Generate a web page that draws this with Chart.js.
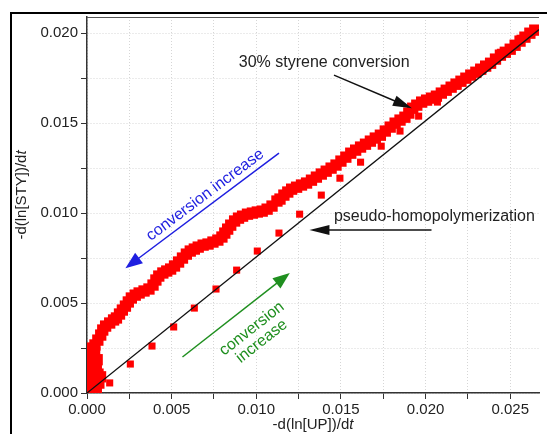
<!DOCTYPE html>
<html>
<head>
<meta charset="utf-8">
<script src="https://cdn.jsdelivr.net/npm/chart.js@4.4.1/dist/chart.umd.min.js"></script>
<style>
  html, body { margin: 0; padding: 0; background: #fff; overflow: hidden; }
  #wrap { position: relative; width: 547px; height: 434px; }
  #frame { position: absolute; left: 10px; top: 12px; width: 600px; height: 500px; border: 2px solid #000; }
  canvas { position: absolute; left: 0; top: 0; }
</style>
</head>
<body>
<div id="wrap">
  <div id="frame"></div>
  <canvas id="chart" width="547" height="434"></canvas>
</div>
<script>
// -d(ln[UP])/dt vs -d(ln[STY])/dt, dense run (red band)
const denseX = [
  0.00005, 0.00010, 0.00020, 0.00015, 0.00035, 0.00030, 0.00055, 0.00050, 0.00020, 0.00045,
  0.00070, 0.00065, 0.00025, 0.00055, 0.00080, 0.00035, 0.00010, 0.00060, 0.00045, 0.00015,
  0.00029, 0.00047, 0.00064, 0.00081, 0.00093, 0.00110, 0.00134, 0.00157, 0.00174, 0.00192,
  0.00209, 0.00227, 0.00244, 0.00262, 0.00285, 0.00308, 0.00337, 0.00366, 0.00390, 0.00407,
  0.00424, 0.00448, 0.00471, 0.00494, 0.00517, 0.00541, 0.00564, 0.00587, 0.00610, 0.00634,
  0.00657, 0.00686, 0.00715, 0.00744, 0.00773, 0.00797, 0.00814, 0.00831, 0.00849, 0.00872,
  0.00895, 0.00919, 0.00948, 0.00977, 0.01006, 0.01035, 0.01064, 0.01093, 0.01122, 0.01140,
  0.01163, 0.01186, 0.01209, 0.01238, 0.01267, 0.01297, 0.01326, 0.01355, 0.01384, 0.01413,
  0.01442, 0.01471, 0.01500, 0.01529, 0.01558, 0.01587, 0.01616, 0.01645, 0.01674, 0.01703,
  0.01733, 0.01762, 0.01791, 0.01820, 0.01849, 0.01878, 0.01901, 0.01924, 0.01948, 0.01977,
  0.02006, 0.02035, 0.02064, 0.02093, 0.02122, 0.02151, 0.02180, 0.02209, 0.02238, 0.02267,
  0.02297, 0.02326, 0.02355, 0.02384, 0.02413, 0.02442, 0.02471, 0.02500, 0.02529, 0.02558,
  0.02587, 0.02616, 0.02645
];
const denseY = [
  0.00010, 0.00035, 0.00015, 0.00070, 0.00040, 0.00095, 0.00025, 0.00075, 0.00125, 0.00120,
  0.00055, 0.00105, 0.00160, 0.00155, 0.00090, 0.00195, 0.00210, 0.00185, 0.00225, 0.00250,
  0.00239, 0.00267, 0.00294, 0.00322, 0.00350, 0.00372, 0.00389, 0.00406, 0.00417, 0.00439,
  0.00461, 0.00483, 0.00506, 0.00528, 0.00544, 0.00556, 0.00567, 0.00578, 0.00600, 0.00628,
  0.00650, 0.00667, 0.00678, 0.00689, 0.00706, 0.00728, 0.00750, 0.00772, 0.00789, 0.00800,
  0.00811, 0.00822, 0.00828, 0.00839, 0.00850, 0.00867, 0.00889, 0.00911, 0.00933, 0.00956,
  0.00972, 0.00983, 0.00994, 0.01000, 0.01006, 0.01011, 0.01022, 0.01039, 0.01067, 0.01078,
  0.01100, 0.01117, 0.01133, 0.01144, 0.01156, 0.01167, 0.01183, 0.01200, 0.01217, 0.01233,
  0.01250, 0.01267, 0.01289, 0.01311, 0.01333, 0.01350, 0.01367, 0.01383, 0.01400, 0.01417,
  0.01433, 0.01456, 0.01478, 0.01500, 0.01517, 0.01533, 0.01556, 0.01583, 0.01600, 0.01617,
  0.01628, 0.01639, 0.01650, 0.01667, 0.01683, 0.01700, 0.01717, 0.01733, 0.01750, 0.01767,
  0.01783, 0.01800, 0.01817, 0.01833, 0.01856, 0.01878, 0.01894, 0.01911, 0.01933, 0.01956,
  0.01978, 0.02000, 0.02017
];

// sparse run (isolated squares near the line)
const sparseX = [0.00134, 0.00256, 0.00384, 0.00512, 0.00634, 0.00762, 0.00884, 0.01006, 0.01134, 0.01256,
  0.01384, 0.01494, 0.01616, 0.01738, 0.01849, 0.01959, 0.02070, 0.02190, 0.02314, 0.02442, 0.02558];
const sparseY = [0.00056, 0.00161, 0.00261, 0.00367, 0.00472, 0.00578, 0.00683, 0.00789, 0.00889, 0.00994,
  0.01100, 0.01194, 0.01283, 0.01372, 0.01456, 0.01539, 0.01617, 0.01706, 0.01806, 0.01894, 0.01972];

// pseudo-homopolymerization line
const lineX = [0, 0.0267];
const lineY = [0, 0.0202];

const xRange = [0, 0.0267];
const yRange = [0, 0.0209];
const tickStep = 0.0025;
const labelStep = 0.005;

const FONT = "'Liberation Sans', Arial, sans-serif";
const RED = '#ff0000';

function pts(xs, ys) {
  return xs.map((x, i) => ({ x: x, y: ys[i] }));
}

function isMajor(v) {
  const r = v / labelStep;
  return Math.abs(r - Math.round(r)) < 1e-6;
}

// annotation anchors, in data units
const notes = {
  styrene: { text: '30% styrene conversion', x: 0.01401, y: 0.01839, from: [0.01459, 0.01767], to: [0.01919, 0.01583] },
  pseudo: { text: 'pseudo-homopolymerization', x: 0.02052, y: 0.00983, from: [0.02035, 0.00906], to: [0.01314, 0.00906] },
  blue: { text: 'conversion increase', x: 0.00698, y: 0.01100, from: [0.01134, 0.01333], to: [0.00227, 0.00694] },
  green: { lines: ['conversion', 'increase'], x: 0.01003, y: 0.00322, from: [0.00564, 0.00200], to: [0.01198, 0.00667] }
};

function drawArrow(ctx, x1, y1, x2, y2, color, head, half) {
  const a = Math.atan2(y2 - y1, x2 - x1);
  ctx.save();
  ctx.strokeStyle = color;
  ctx.fillStyle = color;
  ctx.lineWidth = 1.5;
  ctx.beginPath();
  ctx.moveTo(x1, y1);
  ctx.lineTo(x2 - Math.cos(a) * head * 0.8, y2 - Math.sin(a) * head * 0.8);
  ctx.stroke();
  ctx.translate(x2, y2);
  ctx.rotate(a);
  ctx.beginPath();
  ctx.moveTo(0, 0);
  ctx.lineTo(-head, -half);
  ctx.lineTo(-head, half);
  ctx.closePath();
  ctx.fill();
  ctx.restore();
}

// text with an italic tail ("d" + italic "t")
function drawTitle(ctx, main, tail, cx, cy, rot) {
  ctx.save();
  ctx.translate(cx, cy);
  ctx.rotate(rot);
  ctx.fillStyle = '#222';
  ctx.textBaseline = 'middle';
  ctx.textAlign = 'left';
  ctx.font = '15px ' + FONT;
  const w1 = ctx.measureText(main).width;
  ctx.font = 'italic 15px ' + FONT;
  const w2 = ctx.measureText(tail).width;
  const start = -(w1 + w2) / 2;
  ctx.font = '15px ' + FONT;
  ctx.fillText(main, start, 0);
  ctx.font = 'italic 15px ' + FONT;
  ctx.fillText(tail, start + w1, 0);
  ctx.restore();
}

const annotations = {
  id: 'annotations',
  afterDraw(chart) {
    const { ctx, chartArea, scales } = chart;
    const px = v => scales.x.getPixelForValue(v);
    const py = v => scales.y.getPixelForValue(v);

    // top edge of the plot box
    ctx.save();
    ctx.strokeStyle = '#555';
    ctx.lineWidth = 1;
    ctx.beginPath();
    ctx.moveTo(chartArea.left, chartArea.top + 0.5);
    ctx.lineTo(chartArea.right, chartArea.top + 0.5);
    ctx.stroke();
    ctx.restore();

    ctx.save();
    ctx.font = '16px ' + FONT;
    ctx.fillStyle = '#222';
    ctx.textAlign = 'center';
    ctx.textBaseline = 'middle';
    let n = notes.styrene;
    ctx.fillText(n.text, px(n.x), py(n.y));
    drawArrow(ctx, px(n.from[0]), py(n.from[1]), px(n.to[0]), py(n.to[1]), '#111', 19, 5.5);
    n = notes.pseudo;
    ctx.fillText(n.text, px(n.x), py(n.y));
    drawArrow(ctx, px(n.from[0]), py(n.from[1]), px(n.to[0]), py(n.to[1]), '#111', 20, 5);

    // blue arrow + rotated label
    n = notes.blue;
    let x1 = px(n.from[0]), y1 = py(n.from[1]), x2 = px(n.to[0]), y2 = py(n.to[1]);
    drawArrow(ctx, x1, y1, x2, y2, '#1f1fe0', 17, 6.5);
    let ang = Math.atan2(y1 - y2, x1 - x2);
    ctx.save();
    ctx.translate(px(n.x), py(n.y));
    ctx.rotate(ang);
    ctx.fillStyle = '#1f1fe0';
    ctx.fillText(n.text, 0, 0);
    ctx.restore();

    // green arrow + two-line rotated label
    n = notes.green;
    x1 = px(n.from[0]); y1 = py(n.from[1]); x2 = px(n.to[0]); y2 = py(n.to[1]);
    drawArrow(ctx, x1, y1, x2, y2, '#1f8f1f', 17, 6.5);
    ang = Math.atan2(y2 - y1, x2 - x1);
    ctx.save();
    ctx.translate(px(n.x), py(n.y));
    ctx.rotate(ang);
    ctx.fillStyle = '#1f8f1f';
    ctx.fillText(n.lines[0], 0, -8);
    ctx.fillText(n.lines[1], 0, 8);
    ctx.restore();
    ctx.restore();

    // axis titles
    drawTitle(ctx, '-d(ln[UP])/d', 't', (chartArea.left + chartArea.right) / 2, 425, 0);
    drawTitle(ctx, '-d(ln[STY])/d', 't', 22, 195, -Math.PI / 2);
  }
};

const tickFont = { family: FONT, size: 15 };

new Chart(document.getElementById('chart'), {
  type: 'scatter',
  data: {
    datasets: [
      {
        label: 'pseudo-homopolymerization',
        data: pts(lineX, lineY),
        showLine: true,
        borderColor: '#111',
        borderWidth: 1.3,
        pointRadius: 0,
        order: 0
      },
      {
        label: 'run 1',
        data: pts(denseX, denseY),
        pointStyle: 'rect',
        pointRadius: 8,
        backgroundColor: RED,
        borderWidth: 0,
        order: 1
      },
      {
        label: 'run 2',
        data: pts(sparseX, sparseY),
        pointStyle: 'rect',
        pointRadius: 5,
        backgroundColor: RED,
        borderWidth: 0,
        order: 1
      }
    ]
  },
  options: {
    responsive: false,
    animation: false,
    events: [],
    layout: { padding: { left: 0, top: 17, right: 0, bottom: 0 } },
    plugins: { legend: { display: false }, tooltip: { enabled: false } },
    scales: {
      x: {
        type: 'linear',
        min: xRange[0],
        max: xRange[1],
        ticks: {
          stepSize: tickStep,
          includeBounds: false,
          autoSkip: false,
          maxRotation: 0,
          padding: 2,
          color: '#222',
          font: tickFont,
          callback: v => isMajor(v) ? v.toFixed(3) : ''
        },
        grid: { color: '#d6d6d6', tickColor: '#333', tickLength: 6, lineWidth: 1 },
        border: { color: '#333', width: 1.5, dash: [1, 2] },
        afterFit: s => { s.height = 41; }
      },
      y: {
        type: 'linear',
        min: yRange[0],
        max: yRange[1],
        ticks: {
          stepSize: tickStep,
          includeBounds: false,
          autoSkip: false,
          padding: 3,
          color: '#222',
          font: tickFont,
          callback: v => isMajor(v) ? v.toFixed(3) : ''
        },
        grid: { color: '#d6d6d6', tickColor: '#333', tickLength: 6, lineWidth: 1 },
        border: { color: '#333', width: 1.5, dash: [1, 2] },
        afterFit: s => { s.width = 87; }
      }
    }
  },
  plugins: [annotations]
});
</script>
</body>
</html>
